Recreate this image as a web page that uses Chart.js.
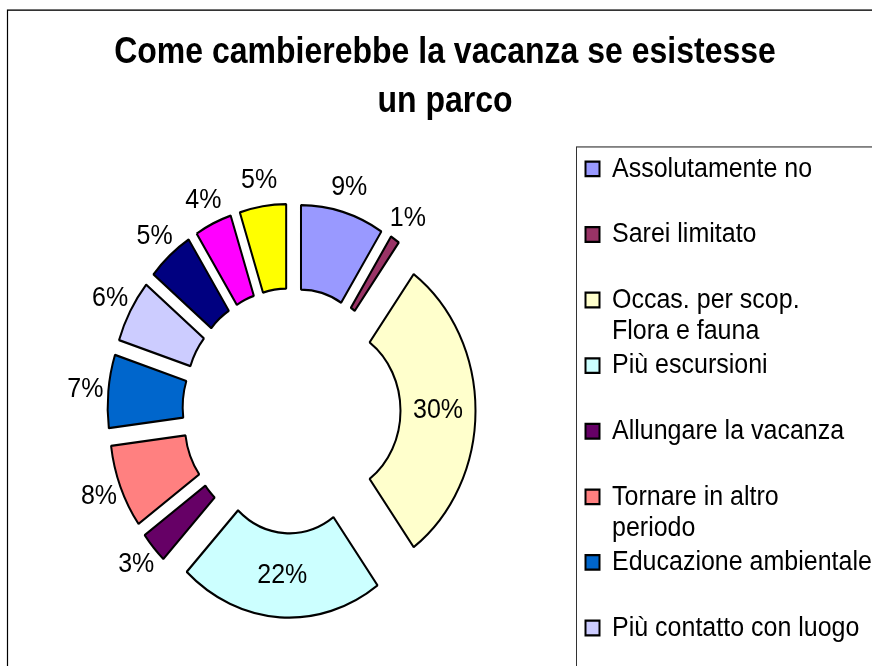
<!DOCTYPE html>
<html lang="it">
<head>
<meta charset="utf-8">
<title>Come cambierebbe la vacanza se esistesse un parco</title>
<script src="https://cdn.jsdelivr.net/npm/chart.js@4.4.1/dist/chart.umd.min.js"></script>
<style>
    html, body { margin: 0; padding: 0; background: #fff; overflow: hidden; }
    #vacanzaChart { display: block; }
</style>
</head>
<body>
<canvas id="vacanzaChart" width="872" height="666"></canvas>
<script>
// "\n" marks where a legend entry wraps
const categories = [
    "Assolutamente no",
    "Sarei limitato",
    "Occas. per scop.\nFlora e fauna",
    "Più escursioni",
    "Allungare la vacanza",
    "Tornare in altro\nperiodo",
    "Educazione ambientale",
    "Più contatto con luogo",
    "Più attività sportive",
    "Più servizi",
    "Altro"
];
const answers = [9, 1, 30, 22, 3, 8, 7, 6, 5, 4, 5];

const FONT = "'Liberation Sans', Arial, sans-serif";
const STRETCH = 1.125;   // the sheet is drawn a little taller than wide
const EXPLODE = 34;      // how far each slice is pulled out

// Chart.js' own `offset` also grows and trims small slices, so move
// every slice straight out along its middle instead
class ExplodedArc extends Chart.ArcElement {
    draw(ctx) {
        const {startAngle, endAngle} = this.getProps(["startAngle", "endAngle"]);
        const mid = (startAngle + endAngle) / 2;
        ctx.save();
        ctx.translate(Math.cos(mid) * EXPLODE, Math.sin(mid) * EXPLODE);
        super.draw(ctx);
        ctx.restore();
    }
}
ExplodedArc.id = "explodedArc";

class ExplodedDoughnut extends Chart.DoughnutController {}
ExplodedDoughnut.id = "explodedDoughnut";
ExplodedDoughnut.defaults = { dataElementType: "explodedArc" };

Chart.register(ExplodedArc, ExplodedDoughnut);

// lay out in 592px, draw stretched to the full 666px height
const stretch = {
    id: "stretch",
    beforeDraw(chart) {
        chart.ctx.save();
        chart.ctx.scale(1, STRETCH);
    },
    afterDraw(chart) {
        chart.ctx.restore();
    }
};

// percent next to each slice, inside the two big ones
const pctLabels = {
    id: "pctLabels",
    afterDatasetsDraw(chart) {
        const ctx = chart.ctx;
        const arcs = chart.getDatasetMeta(0).data;
        const total = answers.reduce((a, b) => a + b, 0);
        ctx.save();
        ctx.font = "25px " + FONT;
        ctx.fillStyle = "#000";
        ctx.textAlign = "center";
        ctx.textBaseline = "middle";
        arcs.forEach((arc, i) => {
            const p = arc.getProps(["x", "y", "startAngle", "endAngle", "innerRadius", "outerRadius"], true);
            const mid = (p.startAngle + p.endAngle) / 2;
            const pct = Math.round(answers[i] / total * 100);
            const r = EXPLODE + (pct >= 20 ? (p.innerRadius + p.outerRadius) / 2 : p.outerRadius + 23);
            ctx.fillText(pct + "%", p.x + Math.cos(mid) * r, p.y + Math.sin(mid) * r);
        });
        ctx.restore();
    }
};

// outer chart border and the legend frame
const frames = {
    id: "frames",
    beforeDraw(chart) {
        const {ctx, legend} = chart;
        ctx.save();
        ctx.strokeStyle = "#000";
        ctx.lineWidth = 1.2;
        ctx.strokeRect(7.5, 9, chart.width, chart.height);
        ctx.strokeStyle = "#333";
        ctx.lineWidth = 1;
        ctx.strokeRect(legend.left - 6.5, legend.top - 4.5, chart.width, chart.height);
        ctx.restore();
    }
};

new Chart(document.getElementById("vacanzaChart"), {
    type: "explodedDoughnut",
    data: {
        labels: categories,
        datasets: [{
            data: answers,
            backgroundColor: [
                "#9999FF",
                "#993366",
                "#FFFFCC",
                "#CCFFFF",
                "#660066",
                "#FF8080",
                "#0066CC",
                "#CCCCFF",
                "#000080",
                "#FF00FF",
                "#FFFF00"
            ],
            borderColor: "#000",
            borderWidth: 2
        }]
    },
    options: {
        responsive: false,
        animation: false,
        events: [],
        radius: 150,
        cutout: "50%",
        layout: {
            padding: { left: 0, right: -18, top: 0, bottom: 71 }
        },
        plugins: {
            tooltip: { enabled: false },
            title: {
                display: true,
                text: ["Come cambierebbe la vacanza se esistesse", "un parco"],
                color: "#000",
                font: { family: FONT, size: 32, weight: "bold", lineHeight: 1.344 },
                padding: { top: 26, bottom: 23.1 }
            },
            legend: {
                position: "right",
                align: "start",
                fullSize: false,
                maxWidth: 307,
                labels: {
                    color: "#000",
                    boxWidth: 14,
                    boxHeight: 13,
                    padding: 2.5,
                    font: { family: FONT, size: 25, lineHeight: 1.116 },
                    generateLabels(chart) {
                        const items = Chart.overrides.doughnut.plugins.legend.labels.generateLabels(chart);
                        items.forEach(item => {
                            const lines = item.text.split("\n");
                            while (lines.length < 2) lines.push("");
                            item.text = lines;
                        });
                        return items;
                    }
                }
            }
        }
    },
    plugins: [stretch, frames, pctLabels]
});
</script>
</body>
</html>
